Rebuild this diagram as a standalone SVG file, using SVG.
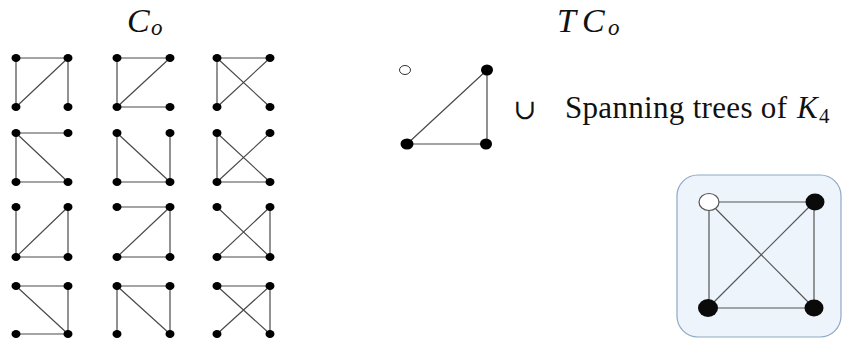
<svg xmlns="http://www.w3.org/2000/svg" width="844" height="347" viewBox="0 0 844 347">
<style>
.e{stroke:#4a4a4a;stroke-width:1.2;fill:none}
.n{fill:#000}
.o{fill:#fff;stroke:#333;stroke-width:1}
.bn{fill:#0a0a0a}
.bo{fill:#fff;stroke:#555;stroke-width:1.2}
.be{stroke:#555;stroke-width:1.2;fill:none}
.t{font-family:"Liberation Serif",serif;fill:#111}
.i{font-style:italic}
</style>
<rect width="844" height="347" fill="#fff"/>
<g id="title-co">
<text class="t i" x="127" y="32" font-size="34">C</text>
<text class="t i" x="151" y="35" font-size="23">o</text>
</g>
<g id="title-tco">
<text class="t i" x="557" y="32" font-size="34">T</text>
<text class="t i" x="582" y="32" font-size="34">C</text>
<text class="t i" x="608" y="35" font-size="23">o</text>
</g>
<g id="connectors">
<!-- row 1 -->
<path class="e" d="M16 58H68M16 58V107M16 107L68 58M68 58V107"/>
<path class="e" d="M117 58H170M117 58V107M117 107L170 58M117 107H170"/>
<path class="e" d="M217 58H270M217 58V107M217 107L270 58M217 58L270 107"/>
<!-- row 2 -->
<path class="e" d="M16 133H68M16 133V182M16 133L68 182M16 182H68"/>
<path class="e" d="M117 133V182M117 133L170 182M117 182H170M170 133V182"/>
<path class="e" d="M217 133V182M217 133L270 182M217 182L270 133M217 182H270"/>
<!-- row 3 -->
<path class="e" d="M16 207V257M16 257L68 207M16 257H68M68 207V257"/>
<path class="e" d="M117 207H170M117 257L170 207M117 257H170M170 207V257"/>
<path class="e" d="M217 207L270 257M217 257L270 207M217 257H270M270 207V257"/>
<!-- row 4 -->
<path class="e" d="M16 286H68M16 286L68 334M68 286V334M16 334H68"/>
<path class="e" d="M117 286H170M117 286V334M117 286L170 334M170 286V334"/>
<path class="e" d="M217 286H270M217 286L270 334M217 334L270 286M270 286V334"/>
<!-- triangle -->
<path class="e" d="M407 144L487 70M487 70V144M407 144H487"/>
</g>
<g id="small-graphs">
<g id="g11"><ellipse class="n" cx="16" cy="58" rx="4.5" ry="4"/><ellipse class="n" cx="68" cy="58" rx="4.5" ry="4"/><ellipse class="n" cx="16" cy="107" rx="4.5" ry="4"/><ellipse class="n" cx="68" cy="107" rx="4.5" ry="4"/></g>
<g id="g12"><ellipse class="n" cx="117" cy="58" rx="4.5" ry="4"/><ellipse class="n" cx="170" cy="58" rx="4.5" ry="4"/><ellipse class="n" cx="117" cy="107" rx="4.5" ry="4"/><ellipse class="n" cx="170" cy="107" rx="4.5" ry="4"/></g>
<g id="g13"><ellipse class="n" cx="217" cy="58" rx="4.5" ry="4"/><ellipse class="n" cx="270" cy="58" rx="4.5" ry="4"/><ellipse class="n" cx="217" cy="107" rx="4.5" ry="4"/><ellipse class="n" cx="270" cy="107" rx="4.5" ry="4"/></g>
<g id="g21"><ellipse class="n" cx="16" cy="133" rx="4.5" ry="4"/><ellipse class="n" cx="68" cy="133" rx="4.5" ry="4"/><ellipse class="n" cx="16" cy="182" rx="4.5" ry="4"/><ellipse class="n" cx="68" cy="182" rx="4.5" ry="4"/></g>
<g id="g22"><ellipse class="n" cx="117" cy="133" rx="4.5" ry="4"/><ellipse class="n" cx="170" cy="133" rx="4.5" ry="4"/><ellipse class="n" cx="117" cy="182" rx="4.5" ry="4"/><ellipse class="n" cx="170" cy="182" rx="4.5" ry="4"/></g>
<g id="g23"><ellipse class="n" cx="217" cy="133" rx="4.5" ry="4"/><ellipse class="n" cx="270" cy="133" rx="4.5" ry="4"/><ellipse class="n" cx="217" cy="182" rx="4.5" ry="4"/><ellipse class="n" cx="270" cy="182" rx="4.5" ry="4"/></g>
<g id="g31"><ellipse class="n" cx="16" cy="207" rx="4.5" ry="4"/><ellipse class="n" cx="68" cy="207" rx="4.5" ry="4"/><ellipse class="n" cx="16" cy="257" rx="4.5" ry="4"/><ellipse class="n" cx="68" cy="257" rx="4.5" ry="4"/></g>
<g id="g32"><ellipse class="n" cx="117" cy="207" rx="4.5" ry="4"/><ellipse class="n" cx="170" cy="207" rx="4.5" ry="4"/><ellipse class="n" cx="117" cy="257" rx="4.5" ry="4"/><ellipse class="n" cx="170" cy="257" rx="4.5" ry="4"/></g>
<g id="g33"><ellipse class="n" cx="217" cy="207" rx="4.5" ry="4"/><ellipse class="n" cx="270" cy="207" rx="4.5" ry="4"/><ellipse class="n" cx="217" cy="257" rx="4.5" ry="4"/><ellipse class="n" cx="270" cy="257" rx="4.5" ry="4"/></g>
<g id="g41"><ellipse class="n" cx="16" cy="286" rx="4.5" ry="4"/><ellipse class="n" cx="68" cy="286" rx="4.5" ry="4"/><ellipse class="n" cx="16" cy="334" rx="4.5" ry="4"/><ellipse class="n" cx="68" cy="334" rx="4.5" ry="4"/></g>
<g id="g42"><ellipse class="n" cx="117" cy="286" rx="4.5" ry="4"/><ellipse class="n" cx="170" cy="286" rx="4.5" ry="4"/><ellipse class="n" cx="117" cy="334" rx="4.5" ry="4"/><ellipse class="n" cx="170" cy="334" rx="4.5" ry="4"/></g>
<g id="g43"><ellipse class="n" cx="217" cy="286" rx="4.5" ry="4"/><ellipse class="n" cx="270" cy="286" rx="4.5" ry="4"/><ellipse class="n" cx="217" cy="334" rx="4.5" ry="4"/><ellipse class="n" cx="270" cy="334" rx="4.5" ry="4"/></g>
</g>
<g id="triangle-graph">
<ellipse class="o" cx="405" cy="70" rx="5.5" ry="4.5"/>
<ellipse class="n" cx="487" cy="70" rx="6" ry="5.5"/>
<ellipse class="n" cx="407" cy="144" rx="6.5" ry="5.5"/>
<ellipse class="n" cx="486" cy="144" rx="6" ry="5.5"/>
</g>
<g id="union-label">
<text x="525" y="119" font-size="28" text-anchor="middle" style="font-family:'DejaVu Serif',serif;fill:#111">∪</text>
<text class="t" x="565" y="118" font-size="31" textLength="222" lengthAdjust="spacing">Spanning trees of</text>
<text class="t i" x="797" y="118" font-size="31">K</text>
<text class="t" x="819" y="123" font-size="21">4</text>
</g>
<g id="k4-box">
<rect x="677" y="175" width="164" height="162" rx="21" ry="21" fill="#eef4fb" stroke="#8ea8c6" stroke-width="1.2"/>
<path class="be" d="M709 202H814M709 202V308M709 202L814 308M708 308L814 202M708 308H814M814 202V308"/>
<ellipse class="bo" cx="709" cy="202" rx="10" ry="8.5"/>
<ellipse class="bn" cx="815" cy="202" rx="9.5" ry="8.5"/>
<ellipse class="bn" cx="708" cy="308" rx="10" ry="9"/>
<ellipse class="bn" cx="814" cy="308" rx="9.5" ry="8.5"/>
</g>
</svg>
